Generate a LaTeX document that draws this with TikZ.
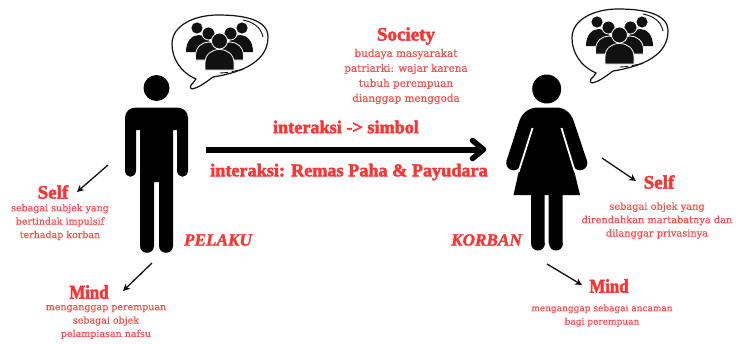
\documentclass[tikz,border=0pt]{standalone}
\usepackage{fontspec}
\usetikzlibrary{arrows.meta}
\setmainfont{Liberation Serif}
\newfontfamily\headf[FakeBold=2.2]{Liberation Serif Bold}
\newfontfamily\mindf[FakeBold=2.2,FakeStretch=0.86]{Liberation Serif Bold}
\newfontfamily\headit[FakeBold=1.5]{Liberation Serif Bold Italic}
\newfontfamily\bodyf[FakeBold=0.25]{DejaVu Serif}
\definecolor{redink}{HTML}{FF3131}
\definecolor{bodyred}{HTML}{FF4A4A}
\definecolor{inkblack}{HTML}{111111}
\tikzset{
  headlabel/.style={text=redink,font=\headf\fontsize{19}{20}\selectfont,inner sep=0pt,align=center},
  mindlabel/.style={text=redink,font=\mindf\fontsize{19.5}{20}\selectfont,inner sep=0pt,align=center},
  midlabel/.style={text=redink,font=\headf\fontsize{18.2}{20}\selectfont,inner sep=0pt,align=center},
  rolelabel/.style={text=redink,font=\headit\fontsize{17.2}{20}\selectfont,inner sep=0pt},
  bodylabel/.style={text=bodyred,font=\bodyf\fontsize{9.5}{13.4}\selectfont,inner sep=0pt,align=center},
  societybody/.style={bodylabel,font=\bodyf\fontsize{10.4}{15}\selectfont},
  selfrbody/.style={bodylabel,font=\bodyf\fontsize{9.8}{13.4}\selectfont},
  mindrbody/.style={bodylabel,font=\bodyf\fontsize{9}{13.4}\selectfont},
  smallarrow/.style={draw=inkblack,line width=1.3pt,-{Stealth[length=7pt,width=7pt]}},
  figure/.style={fill=black,draw=none},
}
\newcommand{\thoughtbubble}{%
  \draw[inkblack,line width=1.2pt,fill=white,line join=round]
    (196,79) .. controls (180,72) and (172,58) .. (172,44)
    .. controls (172,25) and (195,15) .. (218,15)
    .. controls (245,15) and (268,20) .. (268,37)
    .. controls (268,60) and (245,72) .. (213,77)
    .. controls (205,83) and (198,88) .. (192,89)
    .. controls (190,89) and (190,87) .. (191,85)
    .. controls (193,83) and (195,81) .. (196,79) -- cycle;
  \draw[inkblack,line width=0.9pt,line cap=round] (243,20) .. controls (253,22) and (261,27) .. (263,37);
  \draw[inkblack,line width=0.9pt,line cap=round] (220,73) -- (228,72.5) (232,71.5) -- (243,69.5);
  \fill[inkblack] (197,28) circle (5.6) (242,28) circle (5.6);
  \fill[inkblack] (186,52) .. controls (186,41) and (192,35) .. (199,35) .. controls (206,35) and (212,41) .. (212,52) -- cycle;
  \fill[inkblack] (227,52) .. controls (227,41) and (233,35) .. (240,35) .. controls (247,35) and (253,41) .. (253,52) -- cycle;
  \fill[inkblack,draw=white,line width=0.8pt] (208.5,33.5) circle (6.5) (230.5,33.5) circle (6.5);
  \fill[inkblack,draw=white,line width=0.8pt] (195.5,60) -- (195.5,56) .. controls (195.5,47) and (202,42) .. (209,42) .. controls (216,42) and (222,47) .. (222,56) -- (222,60) -- cycle;
  \fill[inkblack,draw=white,line width=0.8pt] (217,60) -- (217,56) .. controls (217,47) and (223,42) .. (230,42) .. controls (237,42) and (243.5,47) .. (243.5,56) -- (243.5,60) -- cycle;
  \fill[inkblack,draw=white,line width=0.8pt] (219.5,41) circle (8);
  \fill[inkblack,draw=white,line width=0.8pt] (205,70) -- (205,63) .. controls (205,54) and (212,49.5) .. (219.5,49.5) .. controls (227,49.5) and (234,54) .. (234,63) -- (234,70) -- cycle;
}
\begin{document}
\begin{tikzpicture}[x=1pt,y=-1pt]
\useasboundingbox (0,0) rectangle (736,343);
% man
\fill[figure] (156.5,88) circle (13);
\fill[figure] (125,170) -- (125,118) .. controls (125,111) and (130,107.5) .. (137,107.5)
  -- (176,107.5) .. controls (183,107.5) and (188,111) .. (188,118) -- (188,170)
  .. controls (188,179) and (177,179) .. (177,170) -- (177,130) -- (173,130)
  -- (173,246) .. controls (173,255) and (159,255) .. (159,246) -- (159,182) -- (154,182)
  -- (154,246) .. controls (154,255) and (140,255) .. (140,246) -- (140,130) -- (136,130)
  -- (136,170) .. controls (136,179) and (125,179) .. (125,170) -- cycle;
% woman
\fill[figure] (546.7,89) circle (14.5);
\fill[figure] (531,190) rectangle (544.7,243) (548.7,190) rectangle (562.7,243);
\fill[figure] (531,243) .. controls (531,253) and (544.7,253) .. (544.7,243) -- cycle;
\fill[figure] (548.7,243) .. controls (548.7,253) and (562.7,253) .. (562.7,243) -- cycle;
\fill[figure] (506.5,161) -- (519,122) .. controls (522,112) and (530,107.5) .. (538,107.5)
  -- (556,107.5) .. controls (564,107.5) and (571,112) .. (574,122) -- (587,161)
  -- (573,166) -- (580,195) -- (513.5,195) -- (520,166) -- cycle;
\fill[figure] (513.5,163) circle (7.3) (580,163) circle (7.3);
\draw[white,line width=1.8pt] (532.5,128) -- (518.5,172) (561.5,128) -- (575,172);
% bubbles
\begin{scope}
\thoughtbubble
\end{scope}
\begin{scope}[shift={(400,-6)}]
\thoughtbubble
\end{scope}
% centre arrow
\coordinate (pelakuside) at (206,149.5);
\coordinate (korbanside) at (483.5,149.5);
\draw[black,line width=6pt] (pelakuside) -- (korbanside);
\draw[black,line width=5.5pt,line cap=round,line join=round] (472.5,140.5) -- (korbanside) -- (472.5,158.5);
% labels
\node[headlabel] (society) at (406,36) {Society};
\node[societybody] (societytext) at (406,76.5) {budaya masyarakat\\patriarki: wajar karena\\tubuh perempuan\\dianggap menggoda};
\node[midlabel] (simbol) at (346,127) {interaksi -> simbol};
\node[midlabel] (remas) at (349,172) {interaksi: Remas Paha \& Payudara};
\node[rolelabel] (pelaku) at (218,240) {PELAKU};
\node[rolelabel] (korban) at (486.5,240) {KORBAN};
\node[headlabel] (selfl) at (53,192) {Self};
\node[bodylabel] (selfltext) at (60,222) {sebagai subjek yang\\bertindak impulsif\\terhadap korban};
\node[mindlabel] (mindl) at (89,292) {Mind};
\node[bodylabel] (mindltext) at (106,322) {menganggap perempuan\\sebagai objek\\pelampiasan nafsu};
\node[headlabel] (selfr) at (659,182) {Self};
\node[selfrbody] (selfrtext) at (657,220.5) {sebagai objek yang\\direndahkan martabatnya dan\\dilanggar privasinya};
\node[mindlabel] (mindr) at (609,286) {Mind};
\node[mindrbody] (mindrtext) at (602,315.5) {menganggap sebagai ancaman\\bagi perempuan};
% small arrows
\coordinate (manarm) at (108,165);
\coordinate (manfoot) at (152,263);
\coordinate (womanarm) at (602,158);
\coordinate (womanfoot) at (547,264);
\draw[smallarrow] (manarm) -- (77,192);
\draw[smallarrow] (manfoot) -- (123,291);
\draw[smallarrow] (womanarm) -- (636,181);
\draw[smallarrow] (womanfoot) -- (582,285);
\end{tikzpicture}
\end{document}
